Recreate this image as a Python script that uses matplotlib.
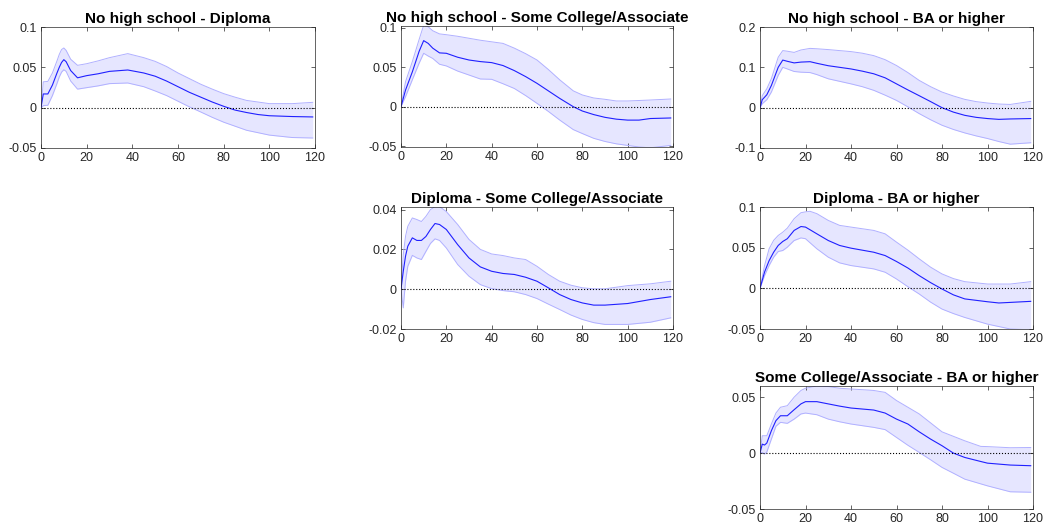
import numpy as np
import matplotlib.pyplot as plt

plt.rcParams['font.family'] = ['Liberation Sans', 'DejaVu Sans']

# months since shock and estimated responses (mean, lower band, upper band)
x_nd = [0, 1, 3, 5, 7, 8, 9, 10, 11, 13, 16, 20, 25, 30, 38, 45, 50, 55, 60, 65, 70, 75, 80, 85, 90, 95, 100, 110, 119]
mean_nd = [0, 0.017, 0.017, 0.028, 0.043, 0.050, 0.056, 0.0595, 0.057, 0.046, 0.037, 0.0397, 0.042, 0.045, 0.0467, 0.043, 0.039, 0.033, 0.026, 0.019, 0.013, 0.007, 0.0017, -0.003, -0.006, -0.0085, -0.010, -0.011, -0.0115]
low_nd = [0, 0.0025, 0.003, 0.015, 0.030, 0.038, 0.044, 0.047, 0.045, 0.033, 0.023, 0.0248, 0.027, 0.0298, 0.0306, 0.026, 0.0207, 0.015, 0.008, 0.001, -0.0054, -0.012, -0.018, -0.023, -0.028, -0.031, -0.034, -0.037, -0.0376]
up_nd = [0, 0.032, 0.0326, 0.043, 0.058, 0.066, 0.072, 0.074, 0.071, 0.060, 0.0525, 0.0545, 0.058, 0.062, 0.067, 0.062, 0.0574, 0.051, 0.043, 0.036, 0.029, 0.023, 0.0174, 0.013, 0.009, 0.007, 0.005, 0.005, 0.0066]

x_ns = [0, 2, 5, 8, 10, 12, 14, 17, 20, 25, 30, 35, 40, 45, 50, 55, 60, 65, 70, 76, 80, 85, 90, 95, 100, 105, 110, 119]
mean_ns = [0, 0.021, 0.044, 0.070, 0.0835, 0.080, 0.074, 0.068, 0.0675, 0.0625, 0.059, 0.057, 0.0557, 0.052, 0.0456, 0.038, 0.0295, 0.020, 0.0105, 0, -0.0055, -0.010, -0.0135, -0.0158, -0.017, -0.017, -0.015, -0.0143]
low_ns = [0, 0.0127, 0.034, 0.055, 0.0675, 0.064, 0.061, 0.0536, 0.0515, 0.045, 0.040, 0.035, 0.0346, 0.029, 0.023, 0.014, 0.0042, -0.006, -0.0169, -0.029, -0.034, -0.040, -0.044, -0.047, -0.049, -0.051, -0.052, -0.049]
up_ns = [0, 0.0316, 0.057, 0.085, 0.103, 0.101, 0.096, 0.092, 0.091, 0.089, 0.0865, 0.084, 0.082, 0.080, 0.074, 0.067, 0.059, 0.047, 0.034, 0.020, 0.0148, 0.011, 0.0093, 0.0072, 0.0072, 0.0078, 0.0084, 0.0097]

x_nb = [0, 1, 3, 5, 8, 10, 12, 15, 18, 22, 25, 30, 40, 45, 50, 55, 60, 65, 70, 75, 80, 85, 90, 95, 100, 105, 110, 119]
mean_nb = [0, 0.0198, 0.032, 0.055, 0.100, 0.118, 0.115, 0.111, 0.113, 0.114, 0.110, 0.104, 0.096, 0.0905, 0.084, 0.074, 0.059, 0.044, 0.0296, 0.015, 0, -0.011, -0.019, -0.024, -0.027, -0.029, -0.028, -0.027]
low_nb = [0, 0.0099, 0.0198, 0.0387, 0.080, 0.100, 0.096, 0.0897, 0.088, 0.087, 0.082, 0.0716, 0.059, 0.052, 0.043, 0.031, 0.018, 0.002, -0.0148, -0.030, -0.0436, -0.054, -0.0626, -0.070, -0.0765, -0.084, -0.0905, -0.087]
up_nb = [0, 0.030, 0.047, 0.072, 0.125, 0.1415, 0.140, 0.137, 0.143, 0.147, 0.146, 0.144, 0.139, 0.135, 0.129, 0.119, 0.1045, 0.087, 0.0675, 0.052, 0.0387, 0.029, 0.0206, 0.015, 0.0115, 0.009, 0.008, 0.0156]

x_ds = [0, 1, 2, 3, 5, 7, 9, 11, 13, 15, 17, 20, 25, 30, 35, 40, 45, 50, 55, 60, 65, 70, 75, 80, 85, 90, 100, 110, 119]
mean_ds = [0, 0.009, 0.0166, 0.0216, 0.0258, 0.0245, 0.0245, 0.0265, 0.030, 0.033, 0.0325, 0.030, 0.0224, 0.0157, 0.0112, 0.009, 0.0079, 0.0074, 0.006, 0.004, 0.0007, -0.0027, -0.0052, -0.0069, -0.008, -0.008, -0.0072, -0.0052, -0.0038]
low_ds = [0, -0.0094, 0.004, 0.0115, 0.017, 0.0157, 0.0149, 0.019, 0.023, 0.0253, 0.0245, 0.0207, 0.0124, 0.0065, 0.0023, 0.0003, -0.0007, -0.0013, -0.0027, -0.0047, -0.0075, -0.0102, -0.013, -0.0152, -0.0168, -0.0177, -0.0177, -0.0166, -0.0144]
up_ds = [0, 0.0174, 0.0266, 0.0316, 0.0358, 0.035, 0.034, 0.0366, 0.040, 0.0415, 0.0415, 0.039, 0.0325, 0.025, 0.020, 0.0177, 0.0169, 0.0157, 0.0149, 0.0115, 0.0074, 0.004, 0.002, 0.0007, 0.0002, 0.0002, 0.0018, 0.0027, 0.004]

x_db = [0, 2, 4, 6, 8, 10, 12, 15, 18, 20, 22, 25, 30, 35, 40, 50, 55, 60, 65, 70, 75, 80, 85, 90, 100, 105, 110, 119]
mean_db = [0, 0.020, 0.034, 0.0444, 0.0527, 0.0576, 0.061, 0.0712, 0.076, 0.0753, 0.072, 0.067, 0.0588, 0.0527, 0.0494, 0.0444, 0.0403, 0.033, 0.025, 0.0156, 0.007, -0.0008, -0.008, -0.013, -0.0165, -0.018, -0.0173, -0.016]
low_db = [0, 0.0156, 0.028, 0.0383, 0.0453, 0.0465, 0.0506, 0.0588, 0.062, 0.061, 0.056, 0.0486, 0.0383, 0.0313, 0.028, 0.0239, 0.0198, 0.0115, 0.002, -0.007, -0.017, -0.0255, -0.031, -0.0358, -0.044, -0.047, -0.050, -0.051]
up_db = [0, 0.028, 0.0486, 0.059, 0.065, 0.069, 0.074, 0.0856, 0.093, 0.094, 0.0947, 0.0918, 0.0835, 0.0774, 0.0753, 0.0712, 0.067, 0.0568, 0.047, 0.0362, 0.026, 0.0177, 0.012, 0.0082, 0.0053, 0.0053, 0.0053, 0.0082]

x_sb = [0, 1, 2, 3, 5, 7, 9, 12, 15, 18, 20, 25, 30, 35, 40, 45, 50, 55, 60, 65, 70, 75, 80, 85, 90, 97, 100, 110, 119]
mean_sb = [0, 0.008, 0.0072, 0.009, 0.020, 0.029, 0.0334, 0.0334, 0.0388, 0.044, 0.046, 0.046, 0.044, 0.042, 0.0403, 0.0394, 0.0385, 0.0358, 0.0304, 0.026, 0.019, 0.0125, 0.0066, 0, -0.0039, -0.0075, -0.009, -0.0107, -0.0113]
low_sb = [0, 0.0006, -0.0009, 0.001, 0.0125, 0.024, 0.0275, 0.0266, 0.0304, 0.035, 0.0358, 0.0343, 0.0304, 0.028, 0.026, 0.0245, 0.023, 0.021, 0.014, 0.007, 0.0006, -0.006, -0.0128, -0.018, -0.0233, -0.0275, -0.0293, -0.0346, -0.035]
up_sb = [0, 0.0155, 0.0155, 0.0155, 0.026, 0.0358, 0.041, 0.0424, 0.050, 0.056, 0.058, 0.060, 0.0595, 0.058, 0.0573, 0.0567, 0.056, 0.0543, 0.047, 0.041, 0.035, 0.027, 0.019, 0.015, 0.011, 0.006, 0.0058, 0.0048, 0.005]

titles = ['No high school - Diploma', 'No high school - Some College/Associate',
          'No high school - BA or higher', 'Diploma - Some College/Associate',
          'Diploma - BA or higher', 'Some College/Associate - BA or higher']
series = [(x_nd, mean_nd, low_nd, up_nd), (x_ns, mean_ns, low_ns, up_ns),
          (x_nb, mean_nb, low_nb, up_nb), (x_ds, mean_ds, low_ds, up_ds),
          (x_db, mean_db, low_db, up_db), (x_sb, mean_sb, low_sb, up_sb)]
ylims = [(-0.05, 0.1), (-0.051, 0.102), (-0.1, 0.2), (-0.02, 0.0413), (-0.05, 0.1), (-0.05, 0.06)]
yticks = [[-0.05, 0, 0.05, 0.1], [-0.05, 0, 0.05, 0.1], [-0.1, 0, 0.1, 0.2],
          [-0.02, 0, 0.02, 0.04], [-0.05, 0, 0.05, 0.1], [-0.05, 0, 0.05]]

W, H = 1046, 531
# axes boxes in pixels: left, top, right, bottom
boxes = [(41, 27, 315, 148), (401, 26, 673, 147), (760, 27, 1033, 148),
         (401, 207, 673, 329), (760, 207, 1033, 329), (760, 386, 1033, 509)]

fig = plt.figure(figsize=(W / 100, H / 100), dpi=100)

for (l, t, r, b), title, (x, m, lo, up), yl, yt in zip(boxes, titles, series, ylims, yticks):
    ax = fig.add_axes([l / W, 1 - b / H, (r - l) / W, (b - t) / H])
    ax.fill_between(x, lo, up, color='#e6e6ff', lw=0)
    ax.plot(x, lo, color='#b0b0ff', lw=0.7)
    ax.plot(x, up, color='#b0b0ff', lw=0.7)
    ax.plot(x, m, color='#2020ff', lw=0.8)
    ax.plot([0, 120], [0, 0], ':', color='black', lw=0.8)
    ax.set_xlim(0, 120)
    ax.set_ylim(*yl)
    ax.set_xticks(range(0, 121, 20))
    ax.set_yticks(yt)
    ax.set_yticklabels(['%g' % v for v in yt])
    ax.tick_params(direction='in', top=True, right=True, length=3, width=0.5,
                   labelsize=9, colors='#262626', pad=3)
    for sp in ax.spines.values():
        sp.set_linewidth(0.5)
        sp.set_color('#262626')
    ax.set_title(title, fontsize=11, fontweight='bold', pad=3)

fig.savefig('out.png', dpi=100)
